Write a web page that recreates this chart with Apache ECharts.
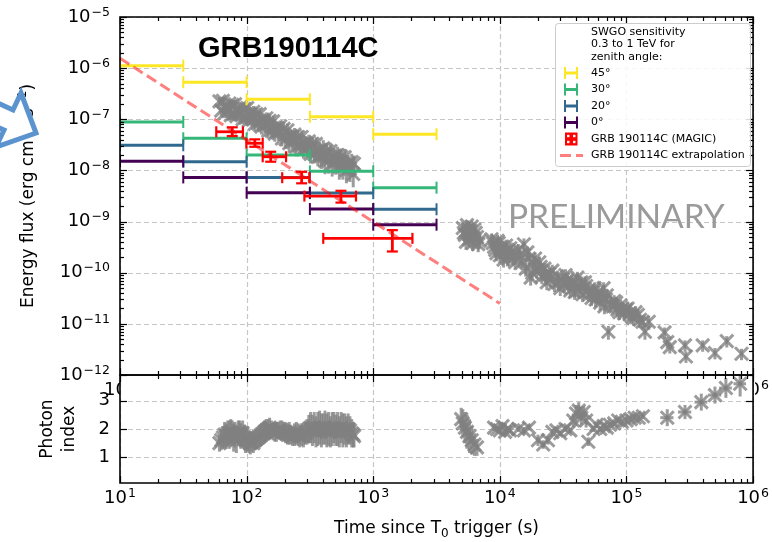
<!DOCTYPE html>
<html>
<head>
<meta charset="utf-8">
<script src="https://cdn.jsdelivr.net/npm/echarts@6/dist/echarts.min.js"></script>
<style>
  html, body { margin: 0; padding: 0; background: #fff; }
  #chart { width: 772px; height: 542px; }
</style>
</head>
<body>
<div id="chart"></div>
<script>
// ---------------- data ----------------
// axis ranges
const T_MIN = 10, T_MAX = 1e6;
const F_MIN = 1e-12, F_MAX = 1e-5;
const IDX_MIN = 0.09, IDX_MAX = 3.91;
const idxTicks = [1, 2, 3];

// SWGO sensitivity (0.3-1 TeV) in half-decade time bins
const swgoBinEdges = [10, 31.6, 100, 316, 1000, 3162];
const swgo45 = [1.12e-6, 5.3e-7, 2.46e-7, 1.12e-7, 5.1e-8];
const swgo30 = [8.85e-8, 4.25e-8, 2.0e-8, 9.6e-9, 4.6e-9];
const swgo20 = [3.1e-8, 1.48e-8, 7.3e-9, 3.6e-9, 1.74e-9];
const swgo0  = [1.51e-8, 7.3e-9, 3.67e-9, 1.76e-9, 8.7e-10];

// MAGIC light curve of GRB 190114C
const magicT   = [77, 116, 155, 272, 556, 1416];
const magicTlo = [57.6, 99.5, 134, 191, 286, 403];
const magicThi = [93.5, 134, 205, 313, 731, 2040];
const magicF   = [5.7e-8, 3.4e-8, 1.85e-8, 7.2e-9, 3.15e-9, 4.7e-10];
const magicFlo = [4.7e-8, 2.9e-8, 1.48e-8, 5.6e-9, 2.35e-9, 2.6e-10];
const magicFhi = [6.97e-8, 4.05e-8, 2.32e-8, 9.4e-9, 4.0e-9, 6.8e-10];

// power-law extrapolation
const extrapT = [10, 10000];
const extrapF = [1.56e-6, 2.5e-11];

// early X-ray window (shared time grid for flux and photon index)
const earlyT = [61, 63, 65, 67, 69, 71, 73, 75, 77, 79,
  81, 83, 86, 88, 90, 93, 96, 98, 101, 104,
  107, 110, 113, 116, 119, 123, 127, 131, 135, 139,
  143, 148, 152, 157, 162, 167, 172, 178, 184, 190,
  196, 203, 210, 217, 224, 231, 239, 247, 255, 263,
  272, 281, 290, 300, 310, 320, 331, 342, 353, 365,
  377, 390, 403, 416, 430, 444, 459, 474, 490, 506,
  523, 540, 558, 576, 595, 614, 634, 655, 676, 695,
  705];
const earlyF = [2.24e-7, 1.48e-7, 2.29e-7, 1.32e-7, 1.82e-7, 1.46e-7, 2.04e-7, 1.2e-7, 1.91e-7, 1.27e-7,
  1.97e-7, 1.15e-7, 1.57e-7, 1.26e-7, 1.74e-7, 1.01e-7, 1.6e-7, 1.07e-7, 1.66e-7, 9.5e-8,
  1.3e-7, 1.02e-7, 1.4e-7, 8.1e-8, 1.27e-7, 8.3e-8, 1.26e-7, 7.2e-8, 9.8e-8, 7.7e-8,
  1.05e-7, 6.0e-8, 9.3e-8, 6.0e-8, 9.1e-8, 5.2e-8, 7.0e-8, 5.4e-8, 7.3e-8, 4.2e-8,
  6.5e-8, 4.1e-8, 6.1e-8, 3.4e-8, 4.7e-8, 3.6e-8, 5.0e-8, 2.9e-8, 4.5e-8, 2.95e-8,
  4.5e-8, 2.6e-8, 3.5e-8, 2.7e-8, 3.7e-8, 2.1e-8, 3.3e-8, 2.1e-8, 3.3e-8, 1.86e-8,
  2.5e-8, 1.95e-8, 2.7e-8, 1.53e-8, 2.4e-8, 1.57e-8, 2.4e-8, 1.38e-8, 1.9e-8, 1.5e-8,
  2.0e-8, 1.2e-8, 1.86e-8, 1.2e-8, 1.82e-8, 1.02e-8, 1.38e-8, 1.08e-8, 1.46e-8, 8.5e-9,
  1.35e-8];
const earlyFErr = [0.2, 0.2, 0.2, 0.2, 0.2, 0.2, 0.2, 0.2, 0.2, 0.2,
  0.2, 0.2, 0.2, 0.2, 0.2, 0.2, 0.2, 0.2, 0.2, 0.2,
  0.3, 0.3, 0.3, 0.3, 0.3, 0.3, 0.3, 0.3, 0.3, 0.3,
  0.3, 0.3, 0.3, 0.3, 0.3, 0.3, 0.3, 0.3, 0.3, 0.3,
  0.35, 0.35, 0.35, 0.35, 0.35, 0.35, 0.35, 0.35, 0.35, 0.35,
  0.35, 0.35, 0.35, 0.35, 0.35, 0.35, 0.35, 0.35, 0.35, 0.35,
  0.45, 0.45, 0.45, 0.45, 0.45, 0.45, 0.45, 0.45, 0.45, 0.45,
  0.45, 0.45, 0.45, 0.45, 0.45, 0.45, 0.45, 0.45, 0.45, 0.45,
  0.45];
const earlyIdx = [1.5, 1.6, 1.7, 1.8, 1.75, 1.85, 1.8, 1.9, 1.85, 1.7,
  1.8, 1.6, 1.85, 1.9, 1.75, 1.85, 1.7, 1.6, 1.65, 1.55,
  1.5, 1.55, 1.5, 1.6, 1.65, 1.7, 1.75, 1.8, 1.85, 1.9,
  1.95, 2.0, 2.05, 2.0, 1.9, 1.85, 1.9, 1.95, 2.0, 1.95,
  1.9, 1.85, 1.8, 1.85, 1.8, 1.75, 1.8, 1.85, 1.8, 1.75,
  1.8, 1.75, 1.85, 1.9, 2.0, 2.05, 1.95, 2.05, 1.9, 2.0,
  2.05, 1.95, 2.0, 2.05, 1.95, 2.0, 1.9, 2.0, 2.05, 1.95,
  2.0, 1.9, 2.05, 1.95, 2.0, 1.9, 2.0, 1.95, 1.85, 1.8,
  1.75];
const earlyIdxErr = [0.3, 0.35, 0.4, 0.45, 0.45, 0.45, 0.5, 0.45, 0.45, 0.5,
  0.45, 0.45, 0.45, 0.4, 0.45, 0.45, 0.45, 0.45, 0.45, 0.4,
  0.4, 0.35, 0.35, 0.35, 0.35, 0.35, 0.4, 0.4, 0.4, 0.4,
  0.4, 0.35, 0.35, 0.3, 0.3, 0.3, 0.35, 0.3, 0.3, 0.35,
  0.35, 0.35, 0.35, 0.4, 0.35, 0.35, 0.4, 0.4, 0.4, 0.4,
  0.4, 0.4, 0.4, 0.45, 0.5, 0.55, 0.55, 0.55, 0.55, 0.6,
  0.6, 0.6, 0.55, 0.6, 0.6, 0.6, 0.55, 0.6, 0.55, 0.55,
  0.6, 0.55, 0.55, 0.6, 0.55, 0.55, 0.55, 0.5, 0.5, 0.45,
  0.4];

// later X-ray flux: time (s), energy flux, relative error
const lateT = [5100, 5200, 5300, 5400, 5500, 5600, 5700, 5800, 5900, 6000, 6100, 6200, 6300, 6450, 6600, 6750, 6900,
  8600, 8800, 9000, 9200, 9400, 9600, 9800, 10000, 10200, 10500, 10700, 11000, 11200, 11500, 11800, 12100, 12500, 12800, 13200,
  14000, 14500, 15000, 15500, 16000, 16500, 17000, 17500, 18000, 18500, 19000, 19500, 20500, 21000, 21500, 22500, 23000,
  23500, 24500, 25000, 26000, 27000, 28500, 29000, 30000, 31500, 32000, 33000, 34000, 35000, 36000, 37000, 38000, 39000,
  41000, 42000, 43000, 44000, 45000, 47000, 48000, 50000, 51000, 53000, 54000, 56000, 57000, 59000, 60000, 62000, 64000,
  66000, 67000, 69000, 70000, 72000, 75000, 78000, 80000, 83000, 85000, 88000, 90000, 93000, 96000, 99000, 102000,
  106000, 110000, 114000, 118000, 123000, 128000, 134000, 140000, 150000,
  200000, 210000, 220000, 290000, 295000, 400000, 500000, 620000, 810000];
const lateF = [7.5e-10, 6.0e-10, 5.5e-10, 4.0e-10, 8.5e-10, 7.0e-10, 4.5e-10, 5.5e-10, 6.5e-10, 8.0e-10, 3.8e-10, 4.8e-10, 7.0e-10, 6.0e-10, 5.0e-10, 3.6e-10, 4.2e-10,
  4.5e-10, 3.8e-10, 3.2e-10, 2.8e-10, 2.4e-10, 4.2e-10, 3.8e-10, 2.2e-10, 2.8e-10, 3.2e-10, 1.8e-10, 2.5e-10, 3.4e-10, 1.9e-10, 2.2e-10, 3.0e-10, 2.6e-10, 2.0e-10, 1.6e-10,
  2.8e-10, 2.2e-10, 1.6e-10, 3.6e-10, 1.2e-10, 2.5e-10, 1.9e-10, 8.0e-11, 1.0e-10, 1.5e-10, 1.9e-10, 1.1e-10, 1.6e-10, 1.3e-10, 8.5e-11, 1.2e-10, 9.0e-11,
  6.5e-11, 9.5e-11, 7.5e-11, 1.1e-10, 6.0e-11, 8.5e-11, 6.5e-11, 5.0e-11, 7.5e-11, 6.0e-11, 9.0e-11, 7.0e-11, 5.5e-11, 4.5e-11, 7.0e-11, 6.0e-11, 4.2e-11,
  8.0e-11, 4.5e-11, 5.5e-11, 6.5e-11, 3.8e-11, 6.5e-11, 5.5e-11, 4.5e-11, 3.8e-11, 3.2e-11, 4.2e-11, 5.0e-11, 3.0e-11, 3.5e-11, 4.2e-11, 2.6e-11, 3.5e-11,
  5.0e-11, 2.2e-11, 3.0e-11, 3.6e-11, 7.0e-12, 2.4e-11, 2.2e-11, 2.8e-11, 2.6e-11, 1.9e-11, 1.7e-11, 2.3e-11, 2.0e-11, 1.6e-11, 1.9e-11, 2.0e-11,
  1.6e-11, 1.4e-11, 1.3e-11, 1.7e-11, 1.5e-11, 1.2e-11, 1.1e-11, 7.0e-12, 1.1e-11,
  6.8e-12, 4.4e-12, 3.5e-12, 3.8e-12, 2.3e-12, 3.8e-12, 2.7e-12, 4.6e-12, 2.6e-12];
const lateFErr = [0.3, 0.3, 0.3, 0.3, 0.25, 0.3, 0.3, 0.3, 0.3, 0.3, 0.3, 0.3, 0.3, 0.3, 0.3, 0.3, 0.3,
  0.3, 0.3, 0.3, 0.3, 0.3, 0.3, 0.3, 0.3, 0.3, 0.3, 0.3, 0.3, 0.3, 0.3, 0.3, 0.3, 0.3, 0.3, 0.3,
  0.3, 0.3, 0.3, 0.3, 0.3, 0.3, 0.3, 0.3, 0.3, 0.3, 0.3, 0.3, 0.3, 0.3, 0.3, 0.3, 0.3,
  0.3, 0.3, 0.3, 0.3, 0.3, 0.3, 0.3, 0.3, 0.3, 0.3, 0.3, 0.3, 0.3, 0.3, 0.3, 0.3, 0.3,
  0.3, 0.3, 0.3, 0.3, 0.3, 0.3, 0.3, 0.3, 0.3, 0.3, 0.3, 0.3, 0.3, 0.3, 0.3, 0.3, 0.3,
  0.3, 0.3, 0.3, 0.3, 0.3, 0.3, 0.3, 0.3, 0.3, 0.3, 0.3, 0.3, 0.3, 0.3, 0.3, 0.3,
  0.3, 0.3, 0.3, 0.3, 0.3, 0.3, 0.3, 0.3, 0.3,
  0.25, 0.25, 0.25, 0.25, 0.25, 0.25, 0.25, 0.25, 0.25];

// later photon index: time (s), index, error
const idxT = [4950, 5100, 5300, 5500, 5750, 6000, 6300, 6600,
  9000, 9500, 10000, 10500, 11000, 11500, 12000,
  14000, 15500, 17000,
  20000, 22000, 24000,
  26000, 28000, 30000, 33000, 36000,
  38000, 40000, 42000, 44000, 46000, 48000, 50000,
  55000, 58000, 62000, 66000, 70000, 74000,
  80000, 86000, 92000, 100000, 108000, 116000, 125000, 135000];
const idxVal = [2.35, 2.2, 2.05, 1.9, 1.75, 1.6, 1.45, 1.35,
  2.05, 2.0, 1.95, 2.1, 1.9, 2.0, 1.95,
  2.0, 1.95, 2.05,
  1.6, 1.45, 1.6,
  1.9, 1.95, 1.85, 2.0, 1.95,
  2.3, 2.55, 2.65, 2.4, 2.6, 2.3, 1.55,
  2.0, 2.15, 2.0, 2.1, 2.05, 2.15,
  2.2, 2.3, 2.25, 2.3, 2.35, 2.4, 2.4, 2.45];
const idxErr = [0.4, 0.5, 0.55, 0.6, 0.6, 0.5, 0.4, 0.3,
  0.12, 0.1, 0.12, 0.1, 0.12, 0.1, 0.1,
  0.1, 0.12, 0.1,
  0.2, 0.15, 0.15,
  0.1, 0.1, 0.1, 0.1, 0.1,
  0.25, 0.3, 0.3, 0.25, 0.2, 0.25, 0.15,
  0.1, 0.12, 0.1, 0.1, 0.1, 0.1,
  0.1, 0.1, 0.1, 0.1, 0.1, 0.1, 0.1, 0.1];
// last photon-index bins with their time-bin widths
const idxLateT   = [210000, 290000, 390000, 500000, 610000, 790000];
const idxLateTlo = [185000, 255000, 345000, 440000, 540000, 700000];
const idxLateThi = [235000, 325000, 435000, 560000, 680000, 880000];
const idxLate    = [2.4, 2.6, 2.95, 3.2, 3.45, 3.6];
const idxLateErr = [0.3, 0.25, 0.3, 0.3, 0.35, 0.45];

// ---------------- helpers ----------------
const FONT = 'DejaVu Sans';
const decades = (a, b) => { const r = []; for (let e = a; e <= b; e++) r.push(Math.pow(10, e)); return r; };
const minorDecades = (a, b) => { const r = []; for (let e = a; e < b; e++) for (let k = 2; k <= 9; k++) r.push(k * Math.pow(10, e)); return r; };
const tMajor = decades(1, 6), tMinor = minorDecades(1, 6);
const fMajor = decades(-12, -5), fMinor = minorDecades(-12, -5);

const powLabel = v => {
  const e = Math.round(Math.log10(v));
  return '{b|10}{s|' + (e < 0 ? '\u2212' + (-e) : e) + '}';
};
const tickRich = {
  b: { fontFamily: FONT, fontSize: 18, color: '#000', lineHeight: 22 },
  s: { fontFamily: FONT, fontSize: 12.5, color: '#000', verticalAlign: 'top', padding: [0, 0, 0, 1] }
};

const GREY = 'rgba(128,128,128,0.78)';
const px = v => Math.round(v) + 0.5;

function lineEl(x1, y1, x2, y2, style) {
  return { type: 'line', shape: { x1, y1, x2, y2 }, style };
}

// dashed major grid lines
function gridRenderer(xs, ys, xr, yr) {
  return (params, api) => {
    const st = { stroke: '#c6c6c6', lineWidth: 1.2, lineDash: [5, 3] };
    const ch = [];
    xs.forEach(v => { const a = api.coord([v, yr[0]]), b = api.coord([v, yr[1]]); ch.push(lineEl(px(a[0]), a[1], px(b[0]), b[1], st)); });
    ys.forEach(v => { const a = api.coord([xr[0], v]), b = api.coord([xr[1], v]); ch.push(lineEl(a[0], px(a[1]), b[0], px(b[1]), st)); });
    return { type: 'group', children: ch };
  };
}

// inward ticks on all four sides
function tickRenderer(xMaj, xMin, yMaj, yMin, xr, yr) {
  return (params, api) => {
    const st = { stroke: '#000', lineWidth: 1.2 };
    const ch = [];
    const xt = (v, len) => {
      const b = api.coord([v, yr[0]]), t = api.coord([v, yr[1]]);
      ch.push(lineEl(px(b[0]), b[1], px(b[0]), b[1] - len, st));
      ch.push(lineEl(px(t[0]), t[1], px(t[0]), t[1] + len, st));
    };
    const yt = (v, len) => {
      const l = api.coord([xr[0], v]), r = api.coord([xr[1], v]);
      ch.push(lineEl(l[0], px(l[1]), l[0] + len, px(l[1]), st));
      ch.push(lineEl(r[0], px(r[1]), r[0] - len, px(r[1]), st));
    };
    xMaj.forEach(v => xt(v, 7)); xMin.forEach(v => xt(v, 4));
    yMaj.forEach(v => yt(v, 7)); yMin.forEach(v => yt(v, 4));
    return { type: 'group', children: ch };
  };
}

// grey 'x' markers with error bars: [t, y, ylo, yhi, tlo, thi]
function xMarkRenderer(params, api) {
  const t = api.value(0), y = api.value(1);
  const c = api.coord([t, y]);
  const lo = api.coord([t, api.value(2)]), hi = api.coord([t, api.value(3)]);
  const st = { stroke: GREY, lineWidth: 3 };
  const s = 6.5;
  const ch = [lineEl(c[0], lo[1], c[0], hi[1], st)];
  const tlo = api.value(4), thi = api.value(5);
  if (tlo > 0 && thi > 0) {
    const a = api.coord([tlo, y]), b = api.coord([thi, y]);
    ch.push(lineEl(a[0], c[1], b[0], c[1], st));
  }
  ch.push(lineEl(c[0] - s, c[1] - s, c[0] + s, c[1] + s, st));
  ch.push(lineEl(c[0] - s, c[1] + s, c[0] + s, c[1] - s, st));
  return { type: 'group', children: ch };
}

// horizontal sensitivity bars with end caps: [tlo, thi, F]
function hBarRenderer(color) {
  return (params, api) => {
    const a = api.coord([api.value(0), api.value(2)]);
    const b = api.coord([api.value(1), api.value(2)]);
    const y = a[1], cap = 6;
    return { type: 'group', children: [
      lineEl(a[0], y, b[0], y, { stroke: color, lineWidth: 3 }),
      lineEl(a[0], y - cap, a[0], y + cap, { stroke: color, lineWidth: 2 }),
      lineEl(b[0], y - cap, b[0], y + cap, { stroke: color, lineWidth: 2 })
    ] };
  };
}

// points with x and y error bars and caps: [t, F, tlo, thi, Flo, Fhi]
function errRenderer(color) {
  return (params, api) => {
    const t = api.value(0), f = api.value(1);
    const c = api.coord([t, f]);
    const l = api.coord([api.value(2), f]), r = api.coord([api.value(3), f]);
    const lo = api.coord([t, api.value(4)]), hi = api.coord([t, api.value(5)]);
    const st = { stroke: color, lineWidth: 2.8 };
    const cs = { stroke: color, lineWidth: 2.2 };
    const cap = 5.5;
    return { type: 'group', children: [
      lineEl(l[0], c[1], r[0], c[1], st),
      lineEl(c[0], lo[1], c[0], hi[1], st),
      lineEl(l[0], c[1] - cap, l[0], c[1] + cap, cs),
      lineEl(r[0], c[1] - cap, r[0], c[1] + cap, cs),
      lineEl(c[0] - cap, lo[1], c[0] + cap, lo[1], cs),
      lineEl(c[0] - cap, hi[1], c[0] + cap, hi[1], cs)
    ] };
  };
}

const swgoSets = [
  { name: '45°', values: swgo45, color: '#fde725' },
  { name: '30°', values: swgo30, color: '#35b779' },
  { name: '20°', values: swgo20, color: '#31688e' },
  { name: '0°',  values: swgo0,  color: '#440154' }
];
const binData = vals => vals.map((v, i) => [swgoBinEdges[i], swgoBinEdges[i + 1], v]);

const relRows = (ts, fs, errs) => ts.map((t, i) => [t, fs[i], fs[i] * (1 - errs[i]), fs[i] * (1 + errs[i]), 0, 0]);
const absRows = (ts, vs, errs) => ts.map((t, i) => [t, vs[i], vs[i] - errs[i], vs[i] + errs[i], 0, 0]);
const fluxData = relRows(earlyT, earlyF, earlyFErr).concat(relRows(lateT, lateF, lateFErr));
const idxData = absRows(earlyT, earlyIdx, earlyIdxErr).concat(absRows(idxT, idxVal, idxErr));
const idxLateData = idxLateT.map((t, i) => [t, idxLate[i], idxLate[i] - idxLateErr[i], idxLate[i] + idxLateErr[i], idxLateTlo[i], idxLateThi[i]]);
const magicData = magicT.map((t, i) => [t, magicF[i], magicTlo[i], magicThi[i], magicFlo[i], magicFhi[i]]);

// ---------------- legend (drawn as graphics) ----------------
const LX = 565, LX2 = 577, TX = 591;
const legendRows = [73, 89.5, 106, 122.5, 139, 155.5];
const legendText = (s, y) => ({
  type: 'text', x: TX, y: y, z: 21,
  style: { text: s, fill: '#000', fontFamily: FONT, fontSize: 11, align: 'left', verticalAlign: 'middle' }
});
const legendEls = [
  { type: 'rect', shape: { x: 555.5, y: 23.5, width: 195, height: 143, r: 3 },
    style: { fill: 'rgba(255,255,255,0.85)', stroke: '#cccccc', lineWidth: 1 }, z: 20 },
  ...['SWGO sensitivity', '0.3 to 1 TeV for', 'zenith angle:'].map((s, i) => legendText(s, 32 + i * 12.5))
];
swgoSets.forEach((s, i) => {
  const y = legendRows[i];
  legendEls.push(
    { type: 'line', shape: { x1: LX, y1: y, x2: LX2, y2: y }, style: { stroke: s.color, lineWidth: 3 }, z: 21 },
    { type: 'line', shape: { x1: LX, y1: y - 6, x2: LX, y2: y + 6 }, style: { stroke: s.color, lineWidth: 2 }, z: 21 },
    { type: 'line', shape: { x1: LX2, y1: y - 6, x2: LX2, y2: y + 6 }, style: { stroke: s.color, lineWidth: 2 }, z: 21 },
    legendText(s.name, y)
  );
});
{
  const y = legendRows[4];
  legendEls.push({ type: 'rect', shape: { x: LX, y: y - 6.5, width: 12.5, height: 13 }, style: { fill: '#ff0000' }, z: 21 });
  [[-3, -3], [3, -3], [-3, 3], [3, 3]].forEach(d => legendEls.push({
    type: 'rect', shape: { x: LX + 6.25 + d[0] - 1.2, y: y + d[1] - 1.2, width: 2.4, height: 2.4 }, style: { fill: '#fff' }, z: 22
  }));
  legendEls.push(legendText('GRB 190114C (MAGIC)', y));
  const y2 = legendRows[5];
  legendEls.push({ type: 'line', shape: { x1: 560, y1: y2, x2: 583, y2: y2 }, style: { stroke: 'rgba(255,0,0,0.5)', lineWidth: 3, lineDash: [11, 5] }, z: 21 });
  legendEls.push(legendText('GRB 190114C extrapolation', y2));
}

// pointer arrow next to the flux axis title
const arrowEl = {
  type: 'polygon', z: 30,
  shape: { points: [[36, 133], [21, 93], [13, 110], [-41, 85], [-51, 105], [4, 130], [-4, 147]] },
  style: { fill: '#ffffff', stroke: '#5b93cf', lineWidth: 5, lineJoin: 'miter' }
};

const option = {
  animation: false,
  backgroundColor: '#ffffff',
  grid: [
    { left: 120, top: 17, width: 635, height: 358, show: true, borderColor: '#000', borderWidth: 1.6, backgroundColor: 'rgba(0,0,0,0)', z: 10 },
    { left: 120, top: 375, width: 635, height: 108, show: true, borderColor: '#000', borderWidth: 1.6, backgroundColor: 'rgba(0,0,0,0)', z: 10 }
  ],
  xAxis: [
    { gridIndex: 0, type: 'log', logBase: 10, min: T_MIN, max: T_MAX, z: -10,
      axisLine: { show: false }, axisTick: { show: false }, splitLine: { show: false },
      axisLabel: { margin: 4, formatter: powLabel, rich: tickRich } },
    { gridIndex: 1, type: 'log', logBase: 10, min: T_MIN, max: T_MAX,
      axisLine: { show: false }, axisTick: { show: false }, splitLine: { show: false },
      axisLabel: { margin: 4, formatter: powLabel, rich: tickRich },
      name: '{n|Time since T}{d|0}{n| trigger (s)}', nameLocation: 'middle', nameGap: 35,
      nameTextStyle: { rich: {
        n: { fontFamily: FONT, fontSize: 17, color: '#000', lineHeight: 22 },
        d: { fontFamily: FONT, fontSize: 12, color: '#000', verticalAlign: 'bottom' } } } }
  ],
  yAxis: [
    { gridIndex: 0, type: 'log', logBase: 10, min: F_MIN, max: F_MAX,
      axisLine: { show: false }, axisTick: { show: false }, splitLine: { show: false },
      axisLabel: { margin: 10, formatter: powLabel, rich: tickRich },
      name: '{n|Energy flux (erg cm}{u|\u22122}{n| s}{u|\u22121}{n|)}', nameLocation: 'middle', nameGap: 80, nameRotate: 90,
      nameTextStyle: { rich: {
        n: { fontFamily: FONT, fontSize: 17, color: '#000', lineHeight: 23 },
        u: { fontFamily: FONT, fontSize: 12, color: '#000', verticalAlign: 'top' } } } },
    { gridIndex: 1, type: 'value', min: IDX_MIN, max: IDX_MAX,
      axisLine: { show: false }, axisTick: { show: false }, splitLine: { show: false },
      axisLabel: { margin: 10, customValues: idxTicks, fontFamily: FONT, fontSize: 18, color: '#000',
        formatter: v => (idxTicks.indexOf(v) >= 0 ? String(v) : '') },
      name: 'Photon\nindex', nameLocation: 'middle', nameGap: 39, nameRotate: 90,
      nameTextStyle: { fontFamily: FONT, fontSize: 17, color: '#000', lineHeight: 22 } }
  ],
  graphic: { elements: [
    // lower panel face hides the upper panel's time labels
    { type: 'rect', shape: { x: 120, y: 375, width: 635, height: 108 }, style: { fill: '#ffffff' }, z: -5 },
    { type: 'text', x: 198, y: 49, z: 15,
      style: { text: 'GRB190114C', fill: '#000', fontFamily: 'Liberation Sans', fontWeight: 'bold', fontSize: 29, align: 'left', verticalAlign: 'middle' } },
    { type: 'text', x: 508, y: 217, z: 15,
      style: { text: 'PRELIMINARY', fill: '#9a9a9a', fontFamily: 'Lato', fontSize: 33.5, align: 'left', verticalAlign: 'middle' } },
    ...legendEls,
    arrowEl
  ] },
  series: [
    { type: 'custom', xAxisIndex: 0, yAxisIndex: 0, z: 1, silent: true, data: [[T_MIN, F_MIN]],
      renderItem: gridRenderer(tMajor, fMajor, [T_MIN, T_MAX], [F_MIN, F_MAX]) },
    { type: 'custom', xAxisIndex: 1, yAxisIndex: 1, z: 1, silent: true, data: [[T_MIN, 1]],
      renderItem: gridRenderer(tMajor, idxTicks, [T_MIN, T_MAX], [IDX_MIN, IDX_MAX]) },
    { name: 'X-ray flux', type: 'custom', xAxisIndex: 0, yAxisIndex: 0, z: 3, clip: true,
      data: fluxData, encode: { x: 0, y: [1, 2, 3] }, renderItem: xMarkRenderer },
    { name: 'Photon index', type: 'custom', xAxisIndex: 1, yAxisIndex: 1, z: 3, clip: true,
      data: idxData, encode: { x: 0, y: [1, 2, 3] }, renderItem: xMarkRenderer },
    { name: 'Photon index (late)', type: 'custom', xAxisIndex: 1, yAxisIndex: 1, z: 3, clip: true,
      data: idxLateData, encode: { x: [0, 4, 5], y: [1, 2, 3] }, renderItem: xMarkRenderer },
    ...swgoSets.map(s => ({
      name: s.name, type: 'custom', xAxisIndex: 0, yAxisIndex: 0, z: 4, clip: true,
      data: binData(s.values), encode: { x: [0, 1], y: 2 }, renderItem: hBarRenderer(s.color)
    })),
    { name: 'GRB 190114C (MAGIC)', type: 'custom', xAxisIndex: 0, yAxisIndex: 0, z: 5, clip: true,
      data: magicData, encode: { x: [0, 2, 3], y: [1, 4, 5] }, renderItem: errRenderer('#ff0000') },
    { name: 'GRB 190114C extrapolation', type: 'line', xAxisIndex: 0, yAxisIndex: 0, z: 6,
      data: extrapT.map((t, i) => [t, extrapF[i]]), symbol: 'none', silent: true,
      lineStyle: { color: 'rgba(255,0,0,0.5)', width: 3, type: [11, 5] } },
    { type: 'custom', xAxisIndex: 0, yAxisIndex: 0, z: 12, silent: true, data: [[T_MIN, F_MIN]],
      renderItem: tickRenderer(tMajor, tMinor, fMajor, fMinor, [T_MIN, T_MAX], [F_MIN, F_MAX]) },
    { type: 'custom', xAxisIndex: 1, yAxisIndex: 1, z: 12, silent: true, data: [[T_MIN, 1]],
      renderItem: tickRenderer(tMajor, tMinor, idxTicks, [], [T_MIN, T_MAX], [IDX_MIN, IDX_MAX]) }
  ]
};

const chart = echarts.init(document.getElementById('chart'), null, { renderer: 'canvas', width: 772, height: 542 });
chart.setOption(option);
</script>
</body>
</html>
